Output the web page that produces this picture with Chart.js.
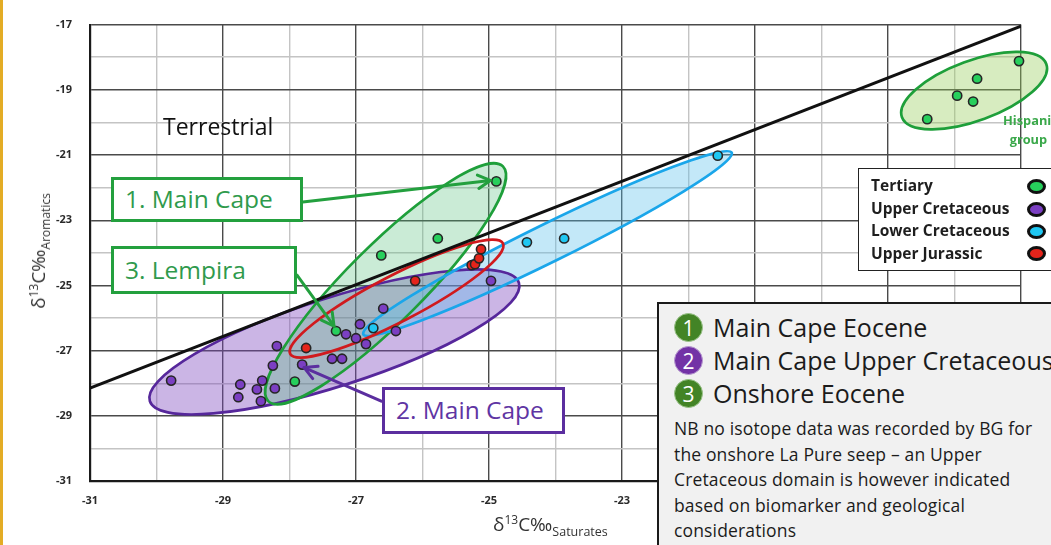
<!DOCTYPE html>
<html><head><meta charset="utf-8">
<script src="https://cdn.jsdelivr.net/npm/chart.js@4"></script>
<style>
html,body{margin:0;padding:0;background:#fff;overflow:hidden;}
#wrap{position:relative;width:1051px;height:545px;overflow:hidden;font-family:'Open Sans',sans-serif;}
#c{position:absolute;left:0;top:0;}
.abs{position:absolute;white-space:nowrap;box-sizing:border-box;}
.lbox{background:#fff;border:3px solid #23a03e;color:#2f9a4c;font-size:24.5px;line-height:1;display:flex;align-items:center;padding-left:11px;}
.leg{font-weight:bold;font-size:15.5px;color:#1e1e1e;line-height:22.5px;}
.mk{position:absolute;left:168px;width:19px;height:15px;border:3px solid #111;border-radius:50%;box-sizing:border-box;}
.num{position:absolute;left:15px;width:29px;height:29px;border-radius:50%;color:#fff;font-size:21px;line-height:28px;text-align:center;box-sizing:border-box;border:1px solid #9bc38a;}
.itm{position:absolute;left:54px;font-size:25px;color:#1b1b1b;line-height:1;}
sub,sup{line-height:0;}
</style></head><body>
<div id="wrap">
<canvas id="c" width="1051" height="545"></canvas>
<div class="abs" style="left:0;top:0;width:3px;height:545px;background:#e3ac25"></div>

<div class="abs" style="left:163px;top:115px;font-size:23px;color:#111;line-height:1;">Terrestrial</div>
<div class="abs lbox" style="left:111px;top:177px;width:192px;height:45px;">1. Main Cape</div>
<div class="abs lbox" style="left:111px;top:246px;width:186px;height:48px;">3. Lempira</div>
<div class="abs lbox" style="left:382px;top:387px;width:183px;height:47px;border-color:#5b2e9f;color:#5f35a3;">2. Main Cape</div>

<div class="abs" style="left:1003px;top:111px;font-size:12.8px;font-weight:bold;color:#3aa84a;line-height:1.45;text-align:left;">Hispanic<br>&nbsp;&nbsp;group</div>

<div class="abs" style="left:38px;top:251px;transform:translate(-50%,-50%) rotate(-90deg);font-size:19px;color:#333;">δ<sup style="font-size:12px">13</sup>C‰<sub style="font-size:12px">Aromatics</sub></div>
<div class="abs" style="left:493px;top:513px;font-size:19px;color:#333;line-height:1.2;">δ<sup style="font-size:12px">13</sup>C‰<sub style="font-size:12.5px">Saturates</sub></div>

<div class="abs" style="left:858px;top:168px;width:200px;height:103px;background:#fff;border:1.5px solid #222;">
  <div class="leg" style="position:absolute;left:12px;top:5px;">Tertiary<br>Upper Cretaceous<br>Lower Cretaceous<br>Upper Jurassic</div>
  <div class="mk" style="top:10px;background:#27cf5c"></div>
  <div class="mk" style="top:33px;background:#7b3fc2"></div>
  <div class="mk" style="top:55px;background:#1fc7f2"></div>
  <div class="mk" style="top:77px;background:#e5241b"></div>
</div>

<div class="abs" style="left:657px;top:302px;width:420px;height:260px;background:#f1f1f1;border:2.5px solid #1a1a1a;">
  <div class="num" style="top:9px;background:#438426">1</div>
  <div class="itm" style="top:11px;">Main Cape Eocene</div>
  <div class="num" style="top:42px;background:#7332a6;border-color:#b79ad0">2</div>
  <div class="itm" style="top:44px;">Main Cape Upper Cretaceous</div>
  <div class="num" style="top:75px;background:#438426">3</div>
  <div class="itm" style="top:77px;">Onshore Eocene</div>
  <div class="abs" style="left:15px;top:112px;font-size:17.5px;letter-spacing:0.15px;line-height:25.5px;color:#1b1b1b;">NB no isotope data was recorded by BG for<br>the onshore La Pure seep – an Upper<br>Cretaceous domain is however indicated<br>based on biomarker and geological<br>considerations</div>
</div>
</div>
<script>
// ---- data ----
const tickValues = [-31, -29, -27, -25, -23, -21, -19, -17];
const axisMin = -31, axisMax = -17;

const tertiaryX = [-24.89, -25.77, -26.62, -27.30, -27.92, -17.03, -17.66, -17.96, -17.72, -18.41];
const tertiaryY = [-21.81, -23.56, -24.08, -26.40, -27.95, -18.12, -18.66, -19.18, -19.36, -19.90];

const upperCretX = [-29.78, -28.77, -28.74, -28.49, -28.43, -28.41, -28.22, -28.25, -28.19, -27.81, -27.36, -27.21, -27.15, -27.00, -26.94, -26.85, -26.59, -26.40, -24.97];
const upperCretY = [-27.92, -28.43, -28.04, -28.19, -28.55, -27.92, -28.16, -27.46, -26.86, -27.43, -27.25, -27.25, -26.50, -26.62, -26.19, -26.80, -25.71, -26.40, -24.86];

const lowerCretX = [-26.74, -24.43, -23.87, -21.56];
const lowerCretY = [-26.31, -23.68, -23.56, -21.02];

const upperJurX = [-27.75, -26.11, -25.26, -25.21, -25.15, -25.12];
const upperJurY = [-26.92, -24.86, -24.38, -24.35, -24.17, -23.89];

const lineX = [-31, -17];
const lineY = [-28.15, -17.05];

// group envelopes: major-axis end points in data units
const envelopes = [
  {p1:[-30.10,-28.55], p2:[-24.55,-24.92], b:44, fill:'rgba(125,70,190,0.40)', stroke:'#56279b'},
  {p1:[-28.32,-28.55], p2:[-24.79,-21.35], b:38, fill:'rgba(80,190,120,0.30)', stroke:'#1e9f3a'},
  {p1:[-26.89,-26.50], p2:[-21.35,-20.93], b:19, fill:'rgba(90,190,235,0.36)', stroke:'#1aa6ea'},
  {p1:[-27.99,-27.10], p2:[-24.79,-23.71], b:23, fill:null, stroke:'#d01a1e'},
  {p1:[-18.79,-19.84], p2:[-16.62,-18.21], b:30, fill:'rgba(150,205,90,0.38)', stroke:'#1e9f3a'}
];
// annotation arrows in data units
const arrows = [
  {from:[-27.80,-22.44], to:[-24.98,-21.78], color:'#23a03e'},
  {from:[-27.89,-24.68], to:[-27.33,-26.25], color:'#23a03e'},
  {from:[-26.62,-28.55], to:[-27.78,-27.52], color:'#5b2e9f'}
];

const pts = (xs, ys) => xs.map((x, i) => ({x, y: ys[i]}));

const annot = {
  id: 'annot',
  beforeDatasetsDraw(chart) {
    const {ctx, scales: {x, y}} = chart;
    const P = p => [x.getPixelForValue(p[0]), y.getPixelForValue(p[1])];
    const path = e => {
      const [x1, y1] = P(e.p1), [x2, y2] = P(e.p2);
      ctx.beginPath();
      ctx.ellipse((x1+x2)/2, (y1+y2)/2, Math.hypot(x2-x1, y2-y1)/2, e.b, Math.atan2(y2-y1, x2-x1), 0, Math.PI*2);
    };
    ctx.save();
    envelopes.forEach(e => { if (e.fill) { path(e); ctx.fillStyle = e.fill; ctx.fill(); } });
    envelopes.forEach(e => { path(e); ctx.strokeStyle = e.stroke; ctx.lineWidth = 2.7; ctx.stroke(); });
    ctx.restore();
  },
  afterDatasetsDraw(chart) {
    const {ctx, scales: {x, y}} = chart;
    const P = p => [x.getPixelForValue(p[0]), y.getPixelForValue(p[1])];
    ctx.save();
    ctx.lineCap = 'round'; ctx.lineJoin = 'round';
    arrows.forEach(a => {
      const [x1, y1] = P(a.from), [x2, y2] = P(a.to);
      const ang = Math.atan2(y2-y1, x2-x1), L = 14, s = 0.5;
      ctx.strokeStyle = a.color; ctx.lineWidth = 3;
      ctx.beginPath(); ctx.moveTo(x1, y1); ctx.lineTo(x2, y2); ctx.stroke();
      ctx.beginPath();
      ctx.moveTo(x2 - L*Math.cos(ang - s), y2 - L*Math.sin(ang - s));
      ctx.lineTo(x2, y2);
      ctx.lineTo(x2 - L*Math.cos(ang + s), y2 - L*Math.sin(ang + s));
      ctx.stroke();
    });
    ctx.restore();
  }
};

const isMajor = v => Math.abs(Math.round(v)) % 2 === 1;
const axisCommon = {
  type: 'linear', min: axisMin, max: axisMax,
  ticks: {stepSize: 1, autoSkip: false, maxRotation: 0, color: '#2a2a2a',
    font: {family: 'Open Sans', size: 11, weight: 'bold'},
    callback: v => tickValues.includes(v) ? String(v) : ''},
  grid: {drawTicks: false,
    color: c => isMajor(c.tick.value) ? '#4a4a4a' : '#c4c4c4',
    lineWidth: c => isMajor(c.tick.value) ? 1.4 : 1.4},
  border: {color: '#1a1a1a', width: 2.2}
};

const scatterStyle = (label, data, color) => ({
  type: 'scatter', label, data, backgroundColor: color, borderColor: '#262626',
  borderWidth: 1.6, pointRadius: 4.6, clip: false, order: 1
});

new Chart(document.getElementById('c'), {
  data: {
    datasets: [
      {type: 'line', label: 'divide', data: pts(lineX, lineY), borderColor: '#111', borderWidth: 3,
       pointRadius: 0, fill: false, order: 10},
      scatterStyle('Upper Cretaceous', pts(upperCretX, upperCretY), '#7b3fc2'),
      scatterStyle('Lower Cretaceous', pts(lowerCretX, lowerCretY), '#1fc7f2'),
      scatterStyle('Upper Jurassic', pts(upperJurX, upperJurY), '#e5241b'),
      scatterStyle('Tertiary', pts(tertiaryX, tertiaryY), '#27cf5c')
    ]
  },
  options: {
    responsive: false, animation: false, devicePixelRatio: 1,
    layout: {padding: {left: 0, right: 30, top: 18, bottom: 0}},
    plugins: {legend: {display: false}, tooltip: {enabled: false}},
    scales: {
      x: Object.assign({}, axisCommon, {
        ticks: Object.assign({}, axisCommon.ticks, {padding: 13}),
        afterFit(s) { s.height = 64; }
      }),
      y: Object.assign({}, axisCommon, {
        ticks: Object.assign({}, axisCommon.ticks, {padding: 18}),
        afterFit(s) { s.width = 90; }
      })
    }
  },
  plugins: [annot]
});
</script>
</body></html>
